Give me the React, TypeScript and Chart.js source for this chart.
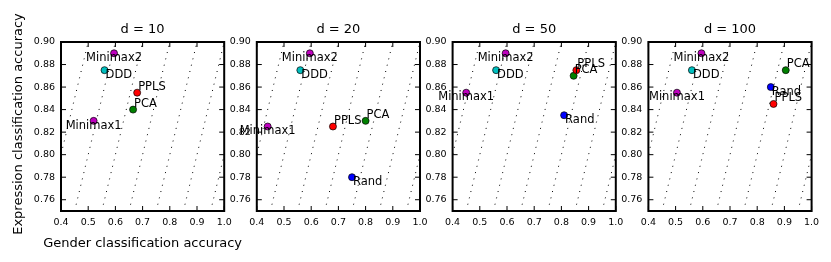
import React, { useEffect, useRef } from 'react';
import { Chart, registerables } from 'chart.js';

Chart.register(...registerables);

// ---------------- data ----------------
const panelTitles = ['d = 10', 'd = 20', 'd = 50', 'd = 100'];
const methods = ['Minimax1', 'Minimax2', 'DDD', 'PPLS', 'PCA', 'Rand'];

// gender (x) and expression (y) classification accuracy, per method, per d
const genderD10 = [0.52, 0.595, 0.56, 0.68, 0.665, null];
const exprD10 = [0.83, 0.89, 0.875, 0.855, 0.84, null];
const genderD20 = [0.44, 0.595, 0.56, 0.68, 0.8, 0.75];
const exprD20 = [0.825, 0.89, 0.875, 0.825, 0.83, 0.78];
const genderD50 = [0.45, 0.595, 0.56, 0.855, 0.845, 0.81];
const exprD50 = [0.855, 0.89, 0.875, 0.875, 0.87, 0.835];
const genderD100 = [0.505, 0.595, 0.56, 0.86, 0.905, 0.85];
const exprD100 = [0.855, 0.89, 0.875, 0.845, 0.875, 0.86];

const xTicks = [0.4, 0.5, 0.6, 0.7, 0.8, 0.9, 1.0];
const yTicks = [0.76, 0.78, 0.8, 0.82, 0.84, 0.86, 0.88, 0.9];
const xRange = [0.4, 1.0];
const yRange = [0.75, 0.9];
// dotted reference lines: y = x + c
const diagonalOffsets = [0.4, 0.3, 0.2, 0.1, 0.0, -0.1, -0.2];

const xLabel = 'Gender classification accuracy';
const yLabel = 'Expression classification accuracy';

// ---------------- styles ----------------
const methodColors: Record<string, string> = {
  Minimax1: '#bf00bf',
  Minimax2: '#bf00bf',
  DDD: '#00bfbf',
  PPLS: '#ff0000',
  PCA: '#008000',
  Rand: '#0000ff',
};
const labelPlacement: Record<string, { align: CanvasTextAlign; below: boolean }> = {
  Minimax1: { align: 'center', below: true },
  Minimax2: { align: 'center', below: true },
  DDD: { align: 'left', below: true },
  Rand: { align: 'left', below: true },
  PPLS: { align: 'left', below: false },
  PCA: { align: 'left', below: false },
};

const FONT = '"DejaVu Sans", "Liberation Sans", sans-serif';
const W = 831;
const H = 262;
const plotLefts = [61, 256.8, 452.6, 648.4];
const plotWidth = 163.2;
const plotTop = 42;
const plotBottom = 211;
const yAxisW = 30;
const xAxisH = 25;

const panelSeries = [
  [genderD10, exprD10],
  [genderD20, exprD20],
  [genderD50, exprD50],
  [genderD100, exprD100],
];

const decorPlugin = {
  id: 'decor',
  afterDatasetsDraw(chart: any, _args: any, opts: any) {
    const { ctx, chartArea: a } = chart;
    const xs = chart.scales.x;
    const ys = chart.scales.y;
    ctx.save();
    // frame
    ctx.strokeStyle = '#000';
    ctx.lineWidth = 2;
    ctx.strokeRect(a.left, a.top, a.right - a.left, a.bottom - a.top);
    // inward ticks on all sides
    ctx.lineWidth = 1;
    const tl = 5;
    ctx.beginPath();
    xTicks.forEach((v) => {
      const px = xs.getPixelForValue(v);
      ctx.moveTo(px, a.bottom);
      ctx.lineTo(px, a.bottom - tl);
      ctx.moveTo(px, a.top);
      ctx.lineTo(px, a.top + tl);
    });
    yTicks.forEach((v) => {
      const py = ys.getPixelForValue(v);
      ctx.moveTo(a.left, py);
      ctx.lineTo(a.left + tl, py);
      ctx.moveTo(a.right, py);
      ctx.lineTo(a.right - tl, py);
    });
    ctx.stroke();
    // point labels
    ctx.fillStyle = '#000';
    ctx.font = `11.5px ${FONT}`;
    chart.data.datasets.forEach((ds: any, di: number) => {
      if (!ds.methodName) return;
      const meta = chart.getDatasetMeta(di);
      const place = labelPlacement[ds.methodName];
      meta.data.forEach((pt: any) => {
        ctx.textAlign = place.align;
        ctx.textBaseline = place.below ? 'top' : 'bottom';
        const dx = place.align === 'left' ? 1 : 0;
        const dy = place.below ? -1 : 0;
        ctx.fillText(ds.methodName, pt.x + dx, pt.y + dy);
      });
    });
    // title
    ctx.font = `13px ${FONT}`;
    ctx.textAlign = 'center';
    ctx.textBaseline = 'alphabetic';
    ctx.fillText(opts.title, (a.left + a.right) / 2, a.top - 8.7);
    if (opts.axisTitles) {
      ctx.fillText(xLabel, (a.left + a.right) / 2, 246.5);
      ctx.save();
      ctx.translate(18.5, 124);
      ctx.rotate(-Math.PI / 2);
      ctx.textBaseline = 'middle';
      ctx.fillText(yLabel, 0, 0);
      ctx.restore();
    }
    ctx.restore();
  },
};

function canvasGeom(i: number) {
  const left = i === 0 ? 0 : Math.floor(plotLefts[i]) - 40;
  const right = Math.ceil(plotLefts[i] + plotWidth) + (i === 0 ? 40 : 14);
  const width = right - left;
  const padLeft = plotLefts[i] - left - yAxisW;
  const padRight = width - (plotLefts[i] - left) - plotWidth;
  return { left, width, padLeft, padRight };
}

export default function App() {
  const refs = useRef<(HTMLCanvasElement | null)[]>([]);

  useEffect(() => {
    const charts: Chart[] = [];
    panelTitles.forEach((title, i) => {
      const canvas = refs.current[i];
      if (!canvas) return;
      const g = canvasGeom(i);
      const [gx, ey] = panelSeries[i];
      const diagDatasets = diagonalOffsets.map((c) => ({
        data: [
          { x: yRange[0] - c, y: yRange[0] },
          { x: yRange[1] - c, y: yRange[1] },
        ],
        showLine: true,
        pointRadius: 0,
        borderColor: '#000',
        borderWidth: 1,
        borderDash: [1, 5.5],
        fill: false,
        order: 10,
      }));
      const pointDatasets = methods
        .map((m, k) => ({ m, x: gx[k], y: ey[k] }))
        .filter((p) => p.x !== null && p.y !== null)
        .map((p) => ({
          methodName: p.m,
          data: [{ x: p.x as number, y: p.y as number }],
          pointRadius: 3.5,
          pointHoverRadius: 3.5,
          pointBackgroundColor: methodColors[p.m],
          pointBorderColor: '#000',
          pointBorderWidth: 0.7,
          showLine: false,
          order: 1,
        }));
      const chart = new Chart(canvas, {
        type: 'scatter',
        data: { datasets: [...pointDatasets, ...diagDatasets] as any },
        plugins: [decorPlugin as any],
        options: {
          responsive: false,
          animation: false,
          events: [],
          layout: {
            padding: {
              left: g.padLeft,
              right: g.padRight,
              top: plotTop,
              bottom: H - plotBottom - xAxisH,
            },
          },
          plugins: {
            legend: { display: false },
            tooltip: { enabled: false },
            title: { display: false },
            decor: { title, axisTitles: i === 0 },
          } as any,
          scales: {
            x: {
              type: 'linear',
              min: xRange[0],
              max: xRange[1],
              afterBuildTicks: (s: any) => {
                s.ticks = xTicks.map((v) => ({ value: v }));
              },
              afterFit: (s: any) => {
                s.height = xAxisH;
              },
              ticks: {
                autoSkip: false,
                maxRotation: 0,
                padding: 6,
                color: '#000',
                font: { family: FONT, size: 9.5 },
                callback: (v: any) => Number(v).toFixed(1),
              },
              grid: { display: false, drawTicks: false },
              border: { display: false },
            },
            y: {
              type: 'linear',
              min: yRange[0],
              max: yRange[1],
              afterBuildTicks: (s: any) => {
                s.ticks = yTicks.map((v) => ({ value: v }));
              },
              afterFit: (s: any) => {
                s.width = yAxisW;
              },
              ticks: {
                autoSkip: false,
                padding: 6,
                color: '#000',
                font: { family: FONT, size: 9.5 },
                callback: (v: any) => Number(v).toFixed(2),
              },
              grid: { display: false, drawTicks: false },
              border: { display: false },
            },
          },
        },
      });
      charts.push(chart);
    });
    return () => charts.forEach((c) => c.destroy());
  }, []);

  return (
    <div style={{ position: 'absolute', left: 0, top: 0, width: W, height: H, background: '#fff' }}>
      {panelTitles.map((t, i) => {
        const g = canvasGeom(i);
        return (
          <canvas
            key={t}
            ref={(el) => {
              refs.current[i] = el;
            }}
            width={g.width}
            height={H}
            style={{ position: 'absolute', left: g.left, top: 0, width: g.width, height: H }}
          />
        );
      })}
    </div>
  );
}
